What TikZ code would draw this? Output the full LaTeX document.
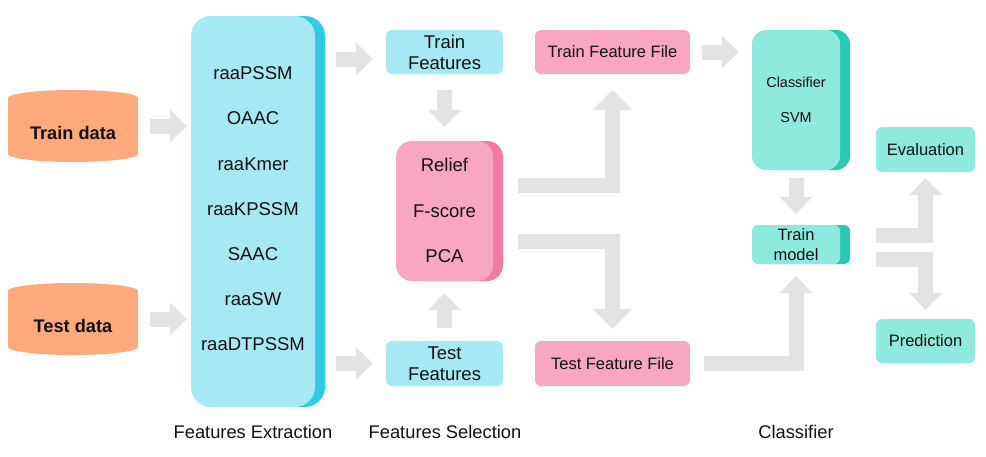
\documentclass[tikz,border=0pt]{standalone}
\usepackage{fontspec}
\setmainfont{Liberation Sans}
\usetikzlibrary{arrows.meta,calc}
\definecolor{cylc}{HTML}{FFAA7D}
\definecolor{cyanL}{HTML}{A6E8F3}
\definecolor{cyanD}{HTML}{2ECCE2}
\definecolor{pinkL}{HTML}{F8A6C1}
\definecolor{pinkD}{HTML}{F27BA3}
\definecolor{tealL}{HTML}{8EEADE}
\definecolor{tealD}{HTML}{29C9B4}
\definecolor{arrg}{HTML}{E3E3E3}
\definecolor{txt}{HTML}{111111}
\begin{document}
\begin{tikzpicture}[x=1pt,y=-1pt,
  box/.style={rounded corners=6pt, inner sep=0pt, align=center, text=txt,
    font=\fontsize{16.5}{19.5}\selectfont},
  shd/.style={preaction={fill=#1, transform canvas={xshift=10pt}}},
  itm/.style={inner sep=0pt, text=txt, font=\fontsize{18.5}{21}\selectfont},
  cyltext/.style={inner sep=0pt, minimum width=130pt, minimum height=72pt, text=txt,
    font=\fontsize{18.2}{21}\selectfont\bfseries},
  lab/.style={inner sep=0pt, text=txt, font=\fontsize{18.3}{21}\selectfont},
  blk/.style={draw=arrg, line width=15pt, -{Triangle[width=33pt,length=17pt,line width=0pt]}},
  blkL/.style={draw=arrg, line width=15pt, -{Triangle[width=40pt,length=20pt,line width=0pt]}}
]
\useasboundingbox (0,0) rectangle (986,456);
\fill[white] (0,0) rectangle (986,456);

% cylinders
\fill[cylc] (8,98) rectangle (138,154);
\fill[cylc] (73,98) ellipse [x radius=65, y radius=8];
\fill[cylc] (73,154) ellipse [x radius=65, y radius=8];
\node[cyltext] (trd) at (73,126) {\raisebox{-13pt}[0pt][0pt]{Train data}};
\fill[cylc] (8,291) rectangle (138,347);
\fill[cylc] (73,291) ellipse [x radius=65, y radius=8];
\fill[cylc] (73,347) ellipse [x radius=65, y radius=8];
\node[cyltext] (ted) at (73,319) {\raisebox{-13pt}[0pt][0pt]{Test data}};

% features extraction
\node[box, fill=cyanL, shd=cyanD, rounded corners=20pt, minimum width=124pt, minimum height=391pt] (fe) at (253,211.5) {};
\node[itm] (f1) at (253,73) {raaPSSM};
\node[itm] (f2) at (253,118) {OAAC};
\node[itm] (f3) at (253,164) {raaKmer};
\node[itm] (f4) at (253,209) {raaKPSSM};
\node[itm] (f5) at (253,254) {SAAC};
\node[itm] (f6) at (253,299) {raaSW};
\node[itm] (f7) at (253,344) {raaDTPSSM};

% features
\node[box, fill=cyanL, minimum width=117pt, minimum height=44pt, font=\fontsize{18.5}{21}\selectfont] (trf) at (444.5,52) {Train\\Features};
\node[box, fill=cyanL, minimum width=117pt, minimum height=45pt, font=\fontsize{18.5}{21}\selectfont] (tef) at (444.5,363.5) {Test\\Features};

% selection
\node[box, fill=pinkL, shd=pinkD, rounded corners=16pt, minimum width=97pt, minimum height=140pt] (sel) at (444.5,211) {};
\node[itm] (s1) at (444.5,165) {Relief};
\node[itm] (s2) at (444.5,211) {F-score};
\node[itm] (s3) at (444.5,256) {PCA};

% feature files
\node[box, fill=pinkL, minimum width=155pt, minimum height=44pt] (trff) at (612.5,52) {Train Feature File};
\node[box, fill=pinkL, minimum width=155pt, minimum height=45pt] (tfff) at (612.5,363.5) {Test Feature File};

% classifier
\node[box, fill=tealL, shd=tealD, rounded corners=14pt, minimum width=88pt, minimum height=140pt] (cls) at (796,100) {};
\node[inner sep=0pt, text=txt, font=\fontsize{14.4}{17}\selectfont] (c1) at (796,82) {Classifier};
\node[inner sep=0pt, text=txt, font=\fontsize{14.4}{17}\selectfont] (c2) at (796,118) {SVM};
\node[box, fill=tealL, shd=tealD, minimum width=88pt, minimum height=39pt] (tm) at (796,244.5) {Train\\model};

\node[box, fill=tealL, minimum width=99pt, minimum height=45pt] (eval) at (925.5,149.5) {Evaluation};
\node[box, fill=tealL, minimum width=99pt, minimum height=44pt] (pred) at (925.5,341) {Prediction};

% bottom labels
\node[lab] (l1) at (253,432) {Features Extraction};
\node[lab] (l2) at (445,432) {Features Selection};
\node[lab] (l3) at (796,432) {Classifier};

% arrows
\draw[blk, shorten <=12pt, shorten >=4pt] (trd.east) -- (fe.west |- trd.east);
\draw[blk, shorten <=12pt, shorten >=4pt] (ted.east) -- (fe.west |- ted.east);
\draw[blk, shorten <=21pt, shorten >=13pt] (fe.east |- 0,59) -- (trf.west |- 0,59);
\draw[blk, shorten <=21pt, shorten >=13pt] (fe.east |- tef.west) -- (tef.west);
\draw[blk, shorten <=16pt, shorten >=14pt] (trf.south) -- (sel.north);
\draw[blk, shorten <=13pt, shorten >=12pt] (tef.north) -- (sel.south);
\draw[blkL, shorten <=25pt, shorten >=16pt] (sel.east |- 0,185.5) -- (trff.south |- 0,185.5) -- (trff.south);
\draw[blkL, shorten <=25pt, shorten >=12pt] (sel.east |- 0,241) -- (tfff.north |- 0,241) -- (tfff.north);
\draw[blk, shorten <=12pt, shorten >=13pt] (trff.east) -- (cls.west |- trff.east);
\draw[blk, shorten <=8pt, shorten >=11pt] (cls.south) -- (tm.north);
\draw[blk, shorten <=14pt, shorten >=12pt] (tfff.east) -- (tm.south |- tfff.east) -- (tm.south);
\draw[blk, shorten <=36pt, shorten >=6pt] (tm.east |- 0,235.5) -- (eval.south |- 0,235.5) -- (eval.south);
\draw[blk, shorten <=36pt, shorten >=9pt] (tm.east |- 0,259.5) -- (pred.north |- 0,259.5) -- (pred.north);
\end{tikzpicture}
\end{document}
